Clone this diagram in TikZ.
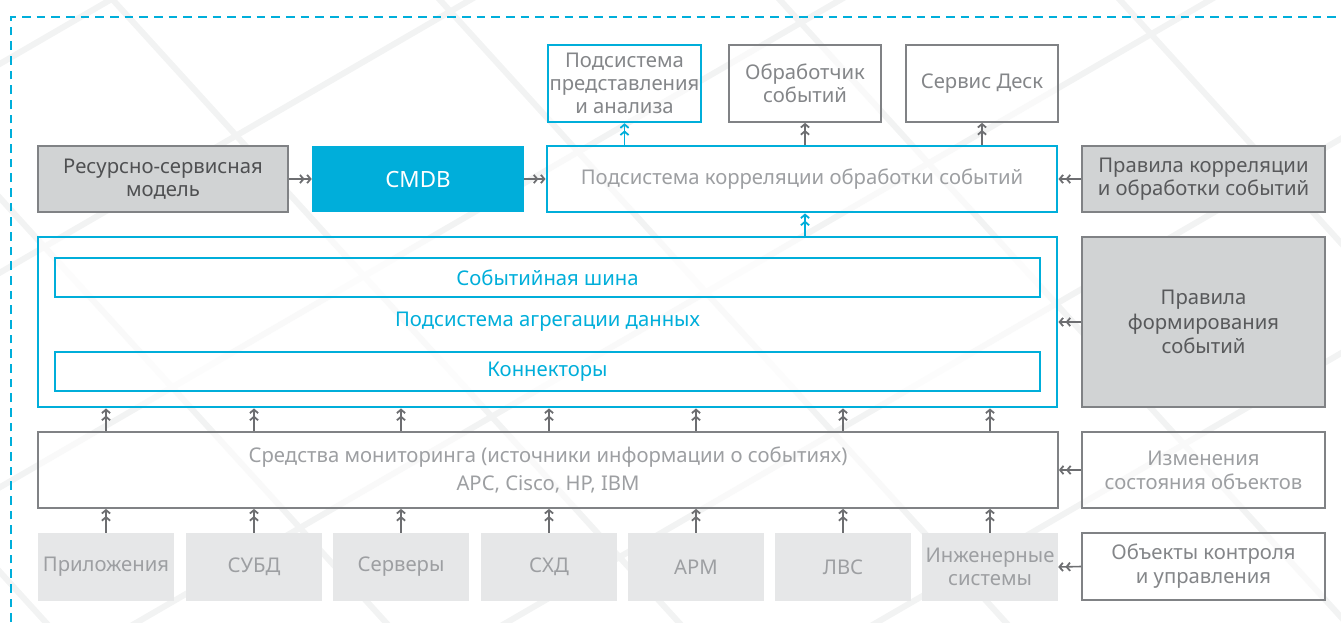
\documentclass[tikz,border=0pt]{standalone}
\usepackage{fontspec}
\setmainfont{Noto Sans}
\usetikzlibrary{arrows.meta}
\definecolor{cy}{HTML}{00AEDA}
\definecolor{gfill}{HTML}{D1D3D4}
\definecolor{lfill}{HTML}{E6E7E8}
\definecolor{bord}{HTML}{808285}
\definecolor{agray}{HTML}{6D6E71}
\definecolor{dtext}{HTML}{58595B}
\definecolor{mtext}{HTML}{848689}
\definecolor{ltext}{HTML}{9D9FA2}
\definecolor{bgl}{HTML}{F2F3F3}
\newcommand\bx[7]{\node[#6, minimum width={(#4-#2)*0.75pt}, minimum height={(#5-#3)*0.75pt}] (#1) at ({(#2+#4)/2},{(#3+#5)/2}) {#7};}
\tikzset{
  base/.style={rectangle, inner sep=0pt, align=center},
  gbox/.style={base, fill=gfill, draw=bord, line width=1.3pt, text=dtext},
  wbox/.style={base, fill=white, fill opacity=0.55, text opacity=1, draw=bord, line width=1.3pt, text=mtext},
  cbox/.style={base, fill=white, fill opacity=0.55, text opacity=1, draw=cy, line width=2.2pt, text=ltext},
  cmdbbox/.style={base, fill=cy, text=white, font=\fontsize{16.8}{19}\selectfont},
  lbox/.style={base, fill=lfill, text=ltext},
  arr/.style={draw=agray, line width=1.2pt, -{Straight Barb[length=2.6pt,width=6.2pt,line width=1.35pt,sep=1.2pt]Straight Barb[length=2.6pt,width=6.2pt,line width=1.35pt]}},
  carr/.style={arr, draw=cy},
  bgline/.style={draw=bgl, line width=4.5pt},
  frame/.style={draw=cy, line width=2.1pt, dash pattern=on 6.5pt off 4.5pt},
}
\begin{document}
\begin{tikzpicture}[x=0.75pt, y=-0.75pt, font=\fontsize{15.2}{17}\selectfont]
\useasboundingbox (0,0) rectangle (1341,622);
% background lattice
\begin{scope}
\clip (0,0) rectangle (1341,622);
\foreach \a in {-520,-180,113,440,780,1120} \draw[bgline] (\a-100,-110) -- (\a+700,770);
\foreach \b in {110,470,840,1210,1580,1950} \draw[bgline] (\b+200,-116) -- (\b-1400,812);
\end{scope}
% dashed frame
\coordinate (fl) at (11,622);
\coordinate (fc) at (11,17);
\coordinate (fr) at (1341,17);
\draw[frame] (fl) -- (fc) -- (fr);

% top row boxes
\bx{pres}{548}{45}{701}{122}{cbox, line width=1.9pt, text=mtext}{Подсистема\\представления\\и анализа}
\bx{obr}{729}{45}{881}{122}{wbox}{Обработчик\\событий}
\bx{sd}{906}{45}{1058}{122}{wbox}{Сервис Деск}

% second row
\bx{rsm}{38}{146}{288}{212}{gbox, text=dtext!90!black}{Ресурсно-сервисная\\модель}
\bx{cmdb}{312}{146}{524}{212}{cmdbbox}{CMDB}
\bx{corr}{547}{146}{1057}{212}{cbox}{Подсистема корреляции обработки событий}
\bx{pk}{1082}{146}{1325}{212}{gbox}{Правила корреляции\\и обработки событий}

% aggregation
\bx{agg}{38}{237}{1057}{407}{cbox, text=cy}{\raisebox{-4pt}{Подсистема агрегации данных}}
\bx{bus}{55}{258}{1040}{297}{cbox, text=cy}{Событийная шина}
\bx{conn}{55}{352}{1040}{391}{cbox, text=cy}{Коннекторы}
\bx{pf}{1082}{237}{1325}{407}{gbox}{Правила\\[1.5pt]формирования\\[1.5pt]событий}

% monitoring
\bx{mon}{38}{432}{1058}{508}{wbox, text=ltext}{Средства мониторинга (источники информации о событиях)\\[4.5pt]APC, Cisco, HP, IBM}
\bx{izm}{1082}{432}{1325}{508}{wbox, text=ltext}{Изменения\\[1pt]состояния объектов}

% bottom
\bx{app}{38}{533}{174}{601}{lbox}{Приложения}
\bx{dbms}{186}{533}{322}{601}{lbox}{СУБД}
\bx{srv}{333}{533}{469}{601}{lbox}{Серверы}
\bx{stor}{481}{533}{617}{601}{lbox}{СХД}
\bx{arm}{628}{533}{764}{601}{lbox}{АРМ}
\bx{lan}{775}{533}{911}{601}{lbox}{ЛВС}
\bx{eng}{922}{533}{1058}{601}{lbox}{Инженерные\\системы}
\bx{obj}{1082}{533}{1325}{600}{wbox}{Объекты контроля\\[1pt]и управления}

% arrows bottom -> monitoring
\foreach \n in {app,dbms,srv,stor,arm,lan,eng}
  \draw[arr] (\n.north) -- (\n.north |- mon.south);
% monitoring -> aggregation
\foreach \n in {app,dbms,srv,stor,arm,lan,eng}
  \draw[arr] (\n.north |- mon.north) -- (\n.north |- agg.south);
% aggregation -> correlation
\draw[carr] (agg.north -| obr.south) -- (corr.south -| obr.south);
% correlation -> top
\draw[carr] (corr.north -| pres.south) -- (pres.south);
\draw[arr] (corr.north -| obr.south) -- (obr.south);
\draw[arr] (corr.north -| sd.south) -- (sd.south);
% horizontal
\draw[arr] (rsm.east) -- (cmdb.west);
\draw[arr] (cmdb.east) -- (corr.west);
\draw[arr] (pk.west) -- (corr.east);
\draw[arr] (pf.west) -- (agg.east);
\draw[arr] (izm.west) -- (mon.east);
\draw[arr] (obj.west) -- (eng.east);
\end{tikzpicture}
\end{document}
